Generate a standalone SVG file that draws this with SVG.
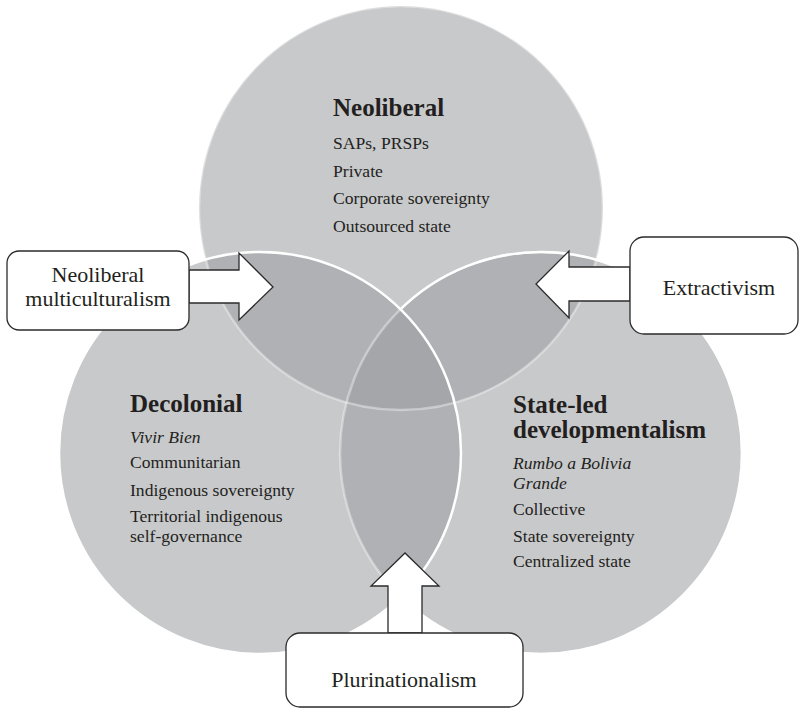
<svg xmlns="http://www.w3.org/2000/svg" width="800" height="710" viewBox="0 0 800 710">
<style>
.fill{fill:rgb(157,158,162);fill-opacity:0.556;stroke:none}
.faint{fill:none;stroke:#fff;stroke-opacity:0.38;stroke-width:2.5}
.solid{fill:none;stroke:#fff;stroke-width:2.5}
.t{font-family:"Liberation Serif","Times New Roman",serif;fill:#231f20}
.title{font-size:25px;font-weight:bold}
.body{font-size:17.6px}
.it{font-style:italic}
.box{fill:#fff;stroke:#2b2b2b;stroke-width:1.3}
.lbl{font-size:22px;text-anchor:middle}
.arrow{fill:#fff;stroke:#2b2b2b;stroke-width:1.3;stroke-linejoin:miter}
</style>
<defs>
<mask id="notLeft" maskUnits="userSpaceOnUse" x="0" y="0" width="800" height="710">
<rect x="0" y="0" width="800" height="710" fill="#fff"/>
<circle cx="260" cy="453" r="200" fill="#000"/>
</mask>
</defs>
<rect x="0" y="0" width="800" height="710" fill="#fff"/>
<g id="circle-fills">
<circle class="fill" cx="401" cy="208" r="202"/>
<circle class="fill" cx="541" cy="453" r="201"/>
<circle class="fill" cx="260" cy="453" r="201"/>
</g>
<g id="circle-outlines">
<circle class="faint" cx="401" cy="208" r="202"/>
<circle class="faint" cx="541" cy="453" r="201"/>
<circle class="solid" cx="541" cy="453" r="201" mask="url(#notLeft)"/>
<circle class="solid" cx="260" cy="453" r="201"/>
</g>
<g id="neoliberal">
<text class="t title" x="333" y="116">Neoliberal</text>
<text class="t body" x="333" y="149">SAPs, PRSPs</text>
<text class="t body" x="333" y="177">Private</text>
<text class="t body" x="333" y="204">Corporate sovereignty</text>
<text class="t body" x="333" y="232">Outsourced state</text>
</g>
<g id="decolonial">
<text class="t title" x="130" y="412">Decolonial</text>
<text class="t body it" x="130" y="443">Vivir Bien</text>
<text class="t body" x="130" y="468">Communitarian</text>
<text class="t body" x="130" y="496">Indigenous sovereignty</text>
<text class="t body" x="130" y="522">Territorial indigenous<tspan x="130" dy="19.5">self-governance</tspan></text>
</g>
<g id="state-led">
<text class="t title" x="513" y="413">State-led<tspan x="513" dy="25">developmentalism</tspan></text>
<text class="t body it" x="513" y="469">Rumbo a Bolivia<tspan x="513" dy="19.5">Grande</tspan></text>
<text class="t body" x="513" y="515">Collective</text>
<text class="t body" x="513" y="542">State sovereignty</text>
<text class="t body" x="513" y="567">Centralized state</text>
</g>
<g id="connectors">
<polygon class="arrow" points="189,270 239,270 239,253 273,287 239,320 239,303 189,303"/>
<polygon class="arrow" points="630,267 569,267 569,251 536,284 569,318 569,301 630,301"/>
<polygon class="arrow" points="388,633 388,586 371,586 405,553 439,586 422,586 422,633"/>
</g>
<g id="box-multiculturalism">
<rect class="box" x="7" y="251" width="182" height="79" rx="12"/>
<text class="t lbl" x="98" y="282">Neoliberal<tspan x="98" dy="24">multiculturalism</tspan></text>
</g>
<g id="box-extractivism">
<rect class="box" x="630" y="237" width="168" height="97" rx="14"/>
<text class="t lbl" x="719" y="295">Extractivism</text>
</g>
<g id="box-plurinationalism">
<rect class="box" x="286" y="633" width="237" height="74" rx="14"/>
<text class="t lbl" x="404" y="687">Plurinationalism</text>
</g>
</svg>
